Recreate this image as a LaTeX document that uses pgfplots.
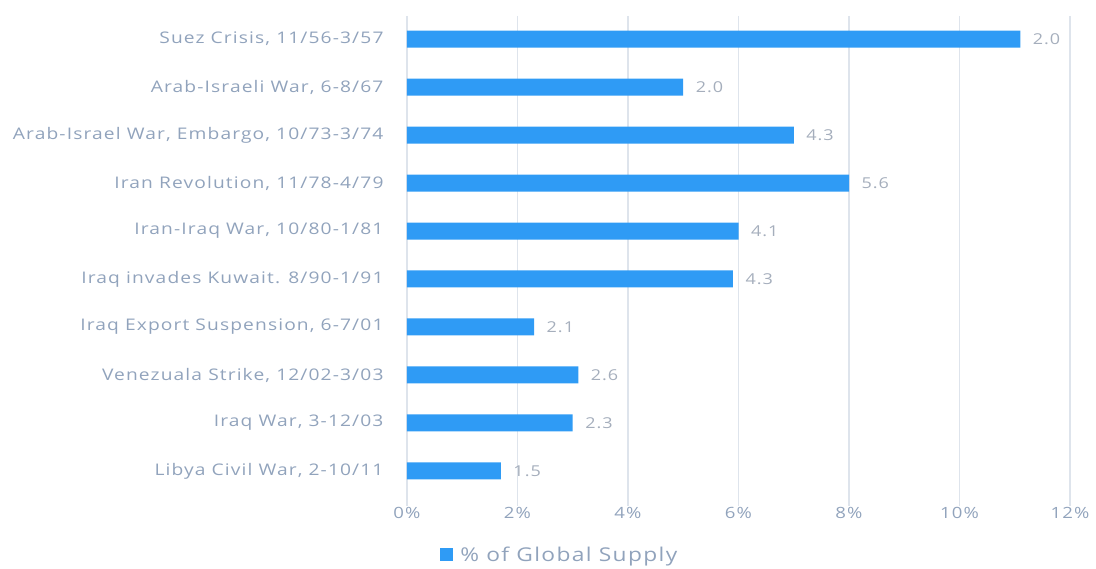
\documentclass[border=0pt]{standalone}
\usepackage{pgfplots}
\pgfplotsset{compat=1.18}
\usepackage{pgfplotstable}
\usepackage{fontspec}
\setmainfont{Open Sans}
\newfontfamily\lblfont[FakeStretch=1.2, LetterSpace=7]{Open Sans}
\definecolor{barblue}{RGB}{47,155,245}
\definecolor{lblgray}{RGB}{145,163,188}
\definecolor{valgray}{RGB}{165,174,188}
\definecolor{gridc}{RGB}{222,228,236}
\pgfplotstableread[col sep=comma]{
idx,val,lab
0,11.1,2.0
1,5.0,2.0
2,7.0,4.3
3,8.0,5.6
4,6.0,4.1
5,5.9,4.3
6,2.3,2.1
7,3.1,2.6
8,3.0,2.3
9,1.7,1.5
}\datatable
\begin{document}
\begin{tikzpicture}[x=1pt,y=1pt]
\path[use as bounding box] (0,0) rectangle (1096,569);
\begin{axis}[
  at={(407pt,63pt)}, anchor=south west,
  scale only axis, width=663pt, height=490pt,
  xbar, bar width=17pt,
  xmin=0, xmax=12, ymin=-0.48, ymax=9.73, y dir=reverse,
  axis lines=none,
  xtick={0,2,4,6,8,10,12},
  xticklabels={0\%,2\%,4\%,6\%,8\%,10\%,12\%},
  ytick={0,...,9},
  yticklabels={{Suez Crisis, 11/56-3/57},{Arab-Israeli War, 6-8/67},{Arab-Israel War, Embargo, 10/73-3/74},{Iran Revolution, 11/78-4/79},{Iran-Iraq War, 10/80-1/81},{Iraq invades Kuwait. 8/90-1/91},{Iraq Export Suspension, 6-7/01},{Venezuala Strike, 12/02-3/03},{Iraq War, 3-12/03},{Libya Civil War, 2-10/11}},
  xmajorgrids, major grid style={gridc, line width=1.2pt},
  major tick length=0pt,
  hide x axis=false, hide y axis=false,
  x axis line style={draw=none}, y axis line style={draw=none},
  xticklabel style={font=\lblfont\fontsize{15.5}{17}\selectfont, text=lblgray, yshift=2pt},
  yticklabel style={font=\lblfont\fontsize{16}{18}\selectfont, text=lblgray, xshift=-20pt},
  nodes near coords={\pgfplotspointmeta},
  point meta=explicit symbolic,
  nodes near coords style={font=\lblfont\fontsize{15}{17}\selectfont, text=valgray, anchor=west, xshift=9pt},
  legend style={at={(0.05,-0.1)}, anchor=west, draw=none, fill=none, font=\lblfont\fontsize{19}{21}\selectfont, text=lblgray, inner sep=0pt},
  legend image code/.code={\fill[barblue] (0pt,-6pt) rectangle (13pt,7pt);},
  legend cell align=left,
]
\addplot[fill=barblue, draw=none] table[x=val, y=idx, meta=lab] {\datatable};
\legend{\hspace{5pt}\% of Global Supply}
\end{axis}
\end{tikzpicture}
\end{document}
